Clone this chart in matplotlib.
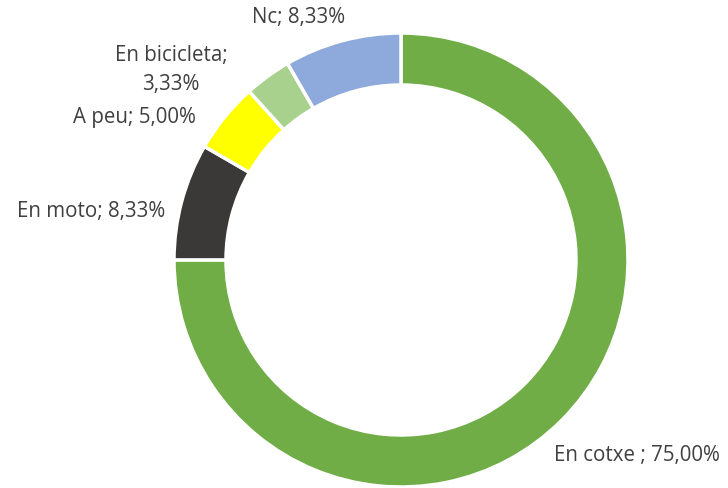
import matplotlib.pyplot as plt

# data
categories = ['En cotxe ', 'En moto', 'A peu', 'En bicicleta', 'Nc']
shares = [75.00, 8.33, 5.00, 3.33, 8.33]
colors = ['#70AD47', '#3B3838', '#FFFF00', '#A9D18E', '#8EA9DB']
label_text = ['En cotxe ; 75,00%', 'En moto; 8,33%', 'A peu; 5,00%',
              'En bicicleta;\n3,33%', 'Nc; 8,33%']
# label centres in pixels (from top left)
label_pos = [(637, 456), (91, 211), (134, 117), (171, 70), (299, 18)]

W, H = 728, 488
fig = plt.figure(figsize=(W / 100, H / 100), dpi=100)
ax = fig.add_axes([0, 0, 1, 1])

ax.pie(shares, colors=colors, startangle=90, counterclock=False,
       radius=227, center=(401, H - 260),
       wedgeprops=dict(width=52, edgecolor='white', linewidth=2.5))
ax.set_xlim(0, W)
ax.set_ylim(0, H)
ax.set_aspect('equal')
ax.axis('off')

for txt, (x, y) in zip(label_text, label_pos):
    ax.text(x, H - y, txt, ha='center', va='center', fontsize=14.8,
            color='#404040', family='Open Sans', linespacing=1.55)

fig.savefig('out.png', dpi=100, facecolor='white')
